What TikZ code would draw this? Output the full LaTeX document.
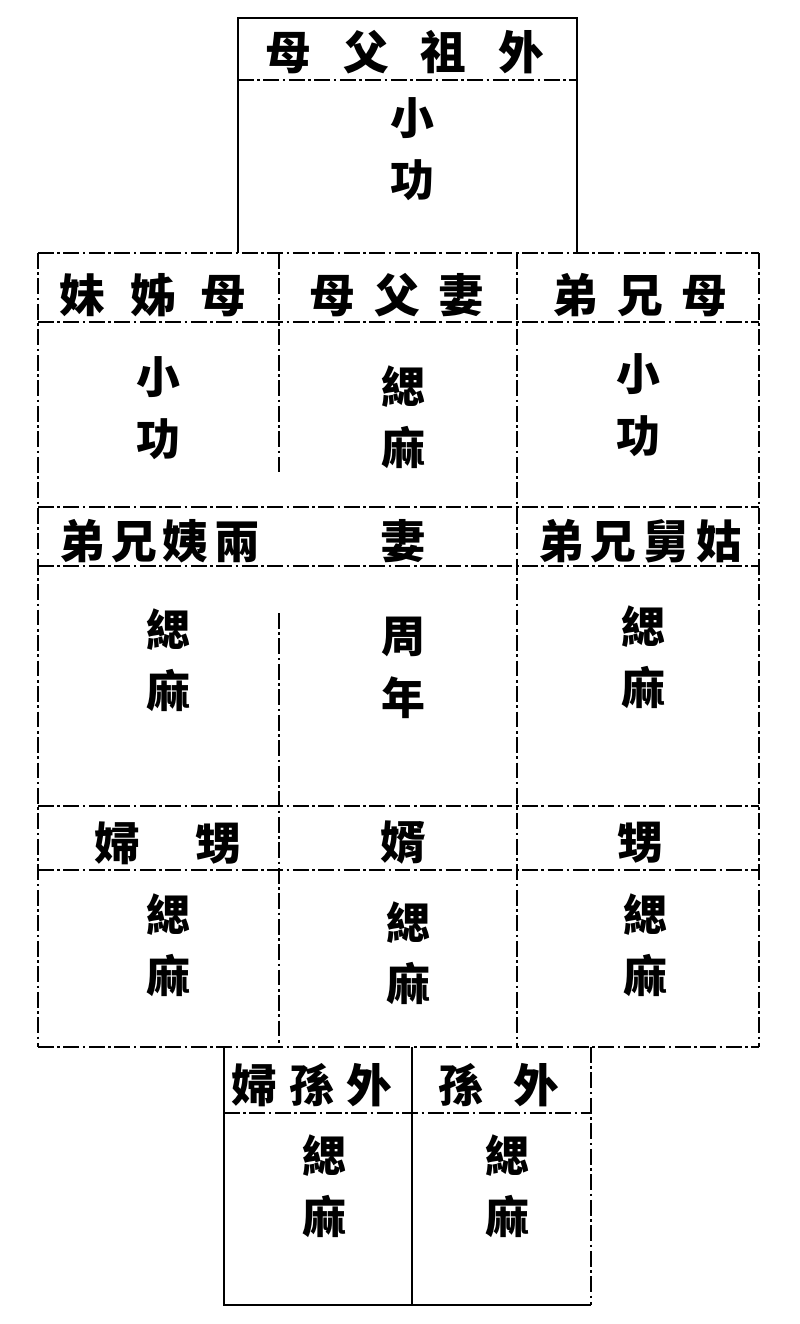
\documentclass[tikz,border=0pt]{standalone}
\usepackage{fontspec}
\newfontfamily\cjk{Noto Sans CJK TC}

\begin{document}
\begin{tikzpicture}[x=0.02cm,y=-0.02cm,
        frame/.style={line width=1.4pt},
        rule/.style={line width=1.2pt,dash pattern=on 9pt off 2pt on 1.5pt off 2pt},
        head/.style={font=\cjk\bfseries\fontsize{26}{26}\selectfont,inner sep=0pt},
        grade/.style={font=\cjk\bfseries\fontsize{25}{35}\selectfont,align=center,inner sep=0pt}]
        \useasboundingbox (0,0) rectangle (800,1324);
        \draw[frame] (238,253) -- (238,18) -- (577,18) -- (577,253); %Grandparents box
        \draw[rule]
            (238,80) -- (577,80) %Grandparents header
            (38,253) -- (759,253) (38,322) -- (759,322) %Row 2
            (38,507) -- (759,507) (38,566) -- (759,566) %Row 3
            (38,806) -- (759,806) (38,870) -- (759,870) %Row 4
            (38,1047) -- (759,1047)
            (38,253) -- (38,1047) (759,253) -- (759,1047) %Outer sides
            (279,253) -- (279,472) (279,613) -- (279,1047) %Left divider
            (517,253) -- (517,1047) %Right divider
        ;
        \draw[frame]
            (224,1047) -- (224,1305) -- (591,1305) (412,1047) -- (412,1305) %Grandchildren boxes
        ;
        \draw[rule]
            (591,1047) -- (591,1305) (224,1113) -- (591,1113)
        ;
        % headers
        \node[head] (grandp) at (405,52) {母\hspace{0.64cm}父\hspace{0.64cm}祖\hspace{0.64cm}外};
        \node[head] (aunt) at (153,295) {妹\hspace{0.5cm}姊\hspace{0.5cm}母};
        \node[head] (inlaw) at (397,295) {母\hspace{0.38cm}父\hspace{0.38cm}妻};
        \node[head] (uncle) at (640,295) {弟\hspace{0.38cm}兄\hspace{0.38cm}母};
        \node[head] (cousin) at (160,541) {弟\hspace{0.12cm}兄\hspace{0.12cm}姨\hspace{0.12cm}兩};
        \node[head] (wife) at (403,541) {妻};
        \node[head] (cousinb) at (640,541) {弟\hspace{0.14cm}兄\hspace{0.14cm}舅\hspace{0.14cm}姑};
        \node[head] (niecew) at (168,843) {婦\hspace{1.12cm}甥};
        \node[head] (soninlaw) at (403,843) {婿};
        \node[head] (nephew) at (640,843) {甥};
        \node[head] (grandcw) at (312,1085) {婦\hspace{0.24cm}孫\hspace{0.24cm}外};
        \node[head] (grandc) at (499,1085) {孫\hspace{0.58cm}外};
        % mourning grades
        \node[grade] (g1) at (412,149) {小\\功};
        \node[grade] (g2) at (158,408) {小\\功};
        \node[grade] (g3) at (403,417) {緦\\麻};
        \node[grade] (g4) at (638,405) {小\\功};
        \node[grade] (g5) at (168,660) {緦\\麻};
        \node[grade] (g6) at (403,668) {周\\年};
        \node[grade] (g7) at (643,657) {緦\\麻};
        \node[grade] (g8) at (168,945) {緦\\麻};
        \node[grade] (g9) at (408,953) {緦\\麻};
        \node[grade] (g10) at (645,945) {緦\\麻};
        \node[grade] (g11) at (324,1186) {緦\\麻};
        \node[grade] (g12) at (507,1186) {緦\\麻};
    \end{tikzpicture}
\end{document}
